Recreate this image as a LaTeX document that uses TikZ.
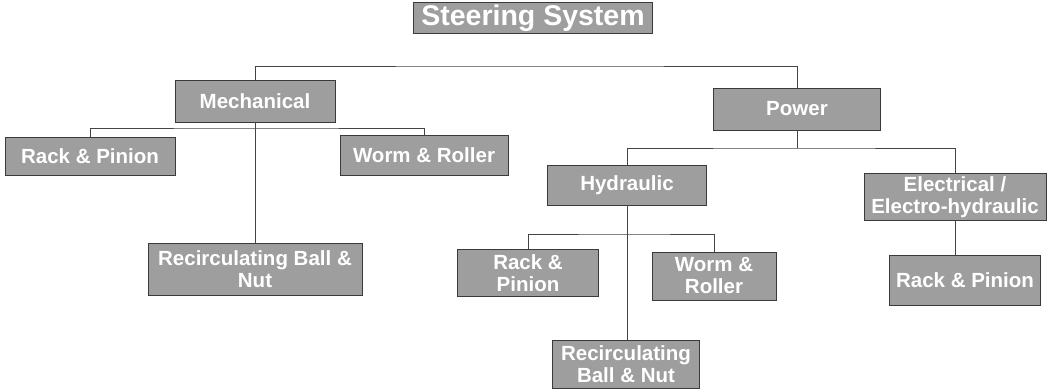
\documentclass[tikz,border=0pt]{standalone}
\usepackage{fontspec}
\setmainfont{Liberation Sans}
\definecolor{boxfill}{HTML}{9E9E9E}
\definecolor{boxline}{HTML}{3A3A3A}
\definecolor{linkc}{HTML}{444444}
\begin{document}
\begin{tikzpicture}[x=1pt,y=-1pt,
  cat/.style={draw=boxline, line width=0.9pt, fill=boxfill, text=white,
    font=\fontsize{20.5}{22}\selectfont\bfseries, align=center,
    inner sep=1pt, anchor=center},
  link/.style={draw=linkc, line width=0.7pt}]
\useasboundingbox (0,0) rectangle (1050,390);
\fill[white] (0,0) rectangle (1050,390);

\node[cat, minimum width=239, minimum height=31,
  font=\fontsize{28.5}{30}\selectfont\bfseries] (ss) at (533,18) {Steering System};
\node[cat, minimum width=160, minimum height=42] (mech) at (255,101) {Mechanical};
\node[cat, minimum width=167, minimum height=42] (power) at (797,109) {Power};

\node[cat, minimum width=170, minimum height=38] (rp1) at (90,156) {Rack \& Pinion};
\node[cat, minimum width=168, minimum height=40] (wr1) at (424,155) {Worm \& Roller};
\node[cat, minimum width=214, minimum height=52] (rb1) at (255,269) {Recirculating Ball \&\\Nut};

\node[cat, minimum width=159, minimum height=40] (hyd) at (627,185) {Hydraulic};
\node[cat, minimum width=182, minimum height=47] (elec) at (955,197) {Electrical /\\Electro-hydraulic};

\node[cat, minimum width=141, minimum height=47] (rp2) at (528,273) {Rack \&\\Pinion};
\node[cat, minimum width=124, minimum height=48] (wr2) at (714,276) {Worm \&\\Roller};
\node[cat, minimum width=147, minimum height=48] (rb2) at (626,364) {Recirculating\\Ball \& Nut};
\node[cat, minimum width=151, minimum height=50] (rp3) at (965,280) {Rack \& Pinion};

% buses
\coordinate (b0) at (533,66);
\coordinate (b1) at (255,128);
\coordinate (b2) at (797,148);
\coordinate (b3) at (627,234);

\draw[link] (mech.north) |- (b0) -| (power.north);
\draw[link] (mech.south) -- (mech.south |- rb1.north);
\draw[link] (rp1.north) |- (b1) -| (wr1.north);
\draw[link] (power.south) -- (b2);
\draw[link] (hyd.north) |- (b2) -| (elec.north);
\draw[link] (hyd.south) -- (hyd.south |- rb2.north);
\draw[link] (rp2.north) |- (b3) -| (wr2.north);
\draw[link] (elec.south) -- (rp3.north -| elec.south);
\end{tikzpicture}
\end{document}
